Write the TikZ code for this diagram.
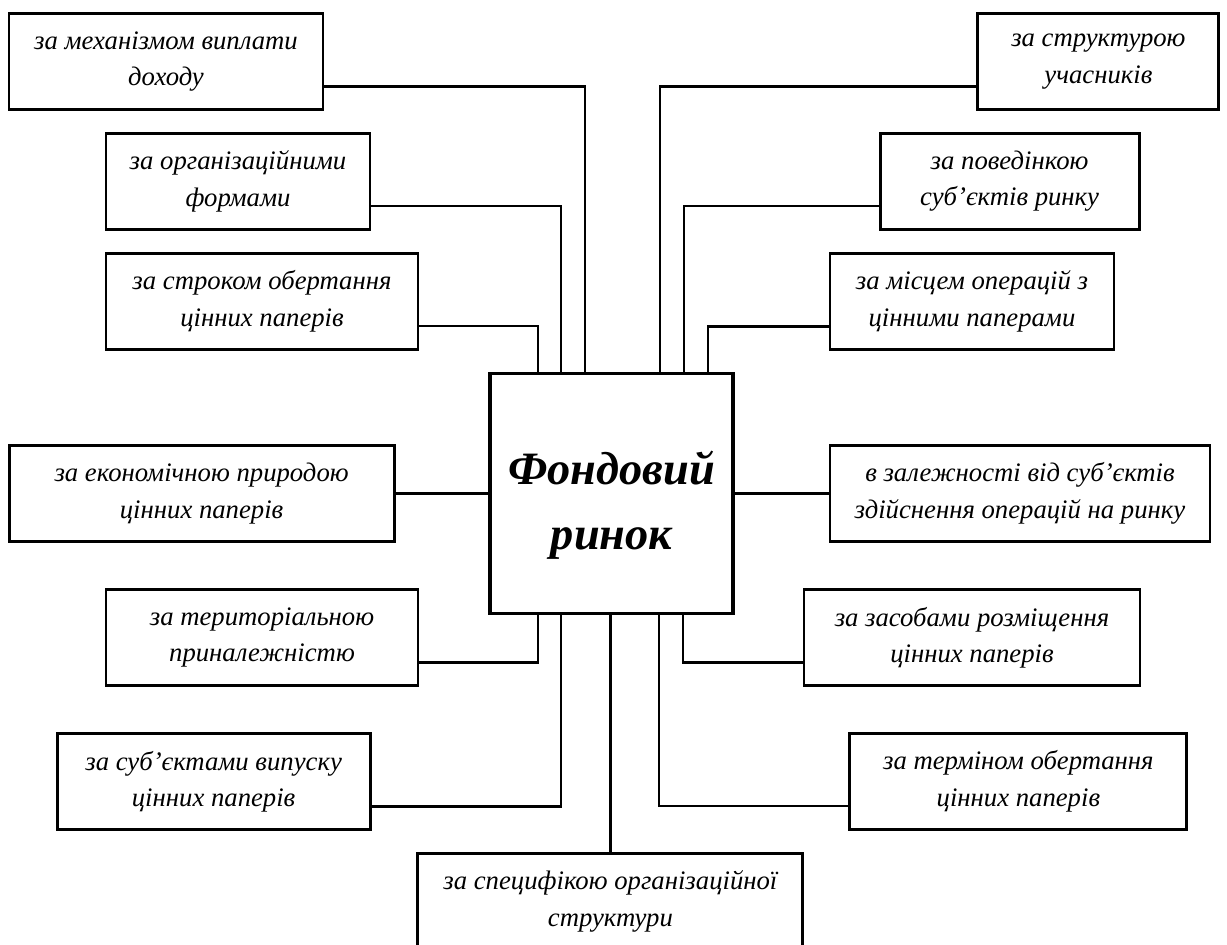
\documentclass[tikz,border=0pt]{standalone}
\usepackage{fontspec}
\setmainfont{Liberation Serif}
\usetikzlibrary{positioning,calc}

\begin{document}
\begin{tikzpicture}
  \tikzstyle{crit}=[draw,line width=2.1pt,minimum height=2.4cm,align=center,inner sep=2pt,
    font=\itshape\fontsize{19}{26}\selectfont]
  \tikzstyle{conn}=[line width=1.8pt]
  \useasboundingbox (0,0) rectangle (30.675,-23.625);
  % central node
  \node[draw,line width=2.4pt,minimum width=6.075cm,minimum height=6cm] (fr) at (15.29,-12.33) {};
  \node[align=center,font=\bfseries\itshape\fontsize{33}{46}\selectfont] (frtext) at ($(fr)+(0,-0.3)$) {Фондовий\\ринок};
  % left side
  \node[crit,minimum width=7.85cm] (b1) at (4.15,-1.54) {за механізмом виплати\\доходу};
  \node[crit,minimum width=6.6cm] (b2) at (5.95,-4.53) {за організаційними\\формами};
  \node[crit,minimum width=7.8cm] (b3) at (6.55,-7.53) {за строком обертання\\цінних паперів};
  \node[crit,minimum width=9.625cm] (b4) at (5.04,-12.34) {за економічною природою\\цінних паперів};
  \node[crit,minimum width=7.8cm] (b5) at (6.55,-15.94) {за територіальною\\приналежністю};
  \node[crit,minimum width=7.825cm] (b6) at (5.34,-19.54) {за суб’єктами випуску\\цінних паперів};
  \node[crit,minimum width=9.625cm] (b7) at (15.26,-22.53) {за специфікою організаційної\\структури};
  % right side
  \node[crit,minimum width=6.025cm] (b9) at (27.46,-1.54) {за структурою\\учасників};
  \node[crit,minimum width=6.475cm] (b10) at (25.24,-4.53) {за поведінкою\\суб’єктів ринку};
  \node[crit,minimum width=7.1cm] (b11) at (24.3,-7.54) {за місцем операцій з\\цінними паперами};
  \node[crit,minimum width=9.5cm] (b12) at (25.5,-12.34) {в залежності від суб’єктів\\здійснення операцій на ринку};
  \node[crit,minimum width=8.4cm] (b13) at (24.3,-15.94) {за засобами розміщення\\цінних паперів};
  \node[crit,minimum width=8.425cm] (b14) at (25.46,-19.53) {за терміном обертання\\цінних паперів};
  % entry points on the central node
  \coordinate (t1) at ($(fr.north)+(-0.66,0)$);
  \coordinate (t2) at ($(fr.north)+(-1.26,0)$);
  \coordinate (t3) at ($(fr.north)+(-1.84,0)$);
  \coordinate (t9) at ($(fr.north)+(1.21,0)$);
  \coordinate (t10) at ($(fr.north)+(1.81,0)$);
  \coordinate (t11) at ($(fr.north)+(2.41,0)$);
  \coordinate (u5) at ($(fr.south)+(-1.84,0)$);
  \coordinate (u6) at ($(fr.south)+(-1.26,0)$);
  \coordinate (u13) at ($(fr.south)+(1.79,0)$);
  \coordinate (u14) at ($(fr.south)+(1.19,0)$);
  % connectors
  \draw[conn] ($(b1.north east)!.75!(b1.south east)$) -| (t1);
  \draw[conn] ($(b2.north east)!.75!(b2.south east)$) -| (t2);
  \draw[conn] ($(b3.north east)!.75!(b3.south east)$) -| (t3);
  \draw[conn] (b4.east) -- (b4.east -| fr.west);
  \draw[conn] ($(b5.north east)!.75!(b5.south east)$) -| (u5);
  \draw[conn] ($(b6.north east)!.75!(b6.south east)$) -| (u6);
  \draw[conn] (b7.north) -- (b7.north |- fr.south);
  \draw[conn] ($(b9.north west)!.75!(b9.south west)$) -| (t9);
  \draw[conn] ($(b10.north west)!.75!(b10.south west)$) -| (t10);
  \draw[conn] ($(b11.north west)!.75!(b11.south west)$) -| (t11);
  \draw[conn] (b12.west) -- (b12.west -| fr.east);
  \draw[conn] ($(b13.north west)!.75!(b13.south west)$) -| (u13);
  \draw[conn] ($(b14.north west)!.75!(b14.south west)$) -| (u14);
\end{tikzpicture}
\end{document}
